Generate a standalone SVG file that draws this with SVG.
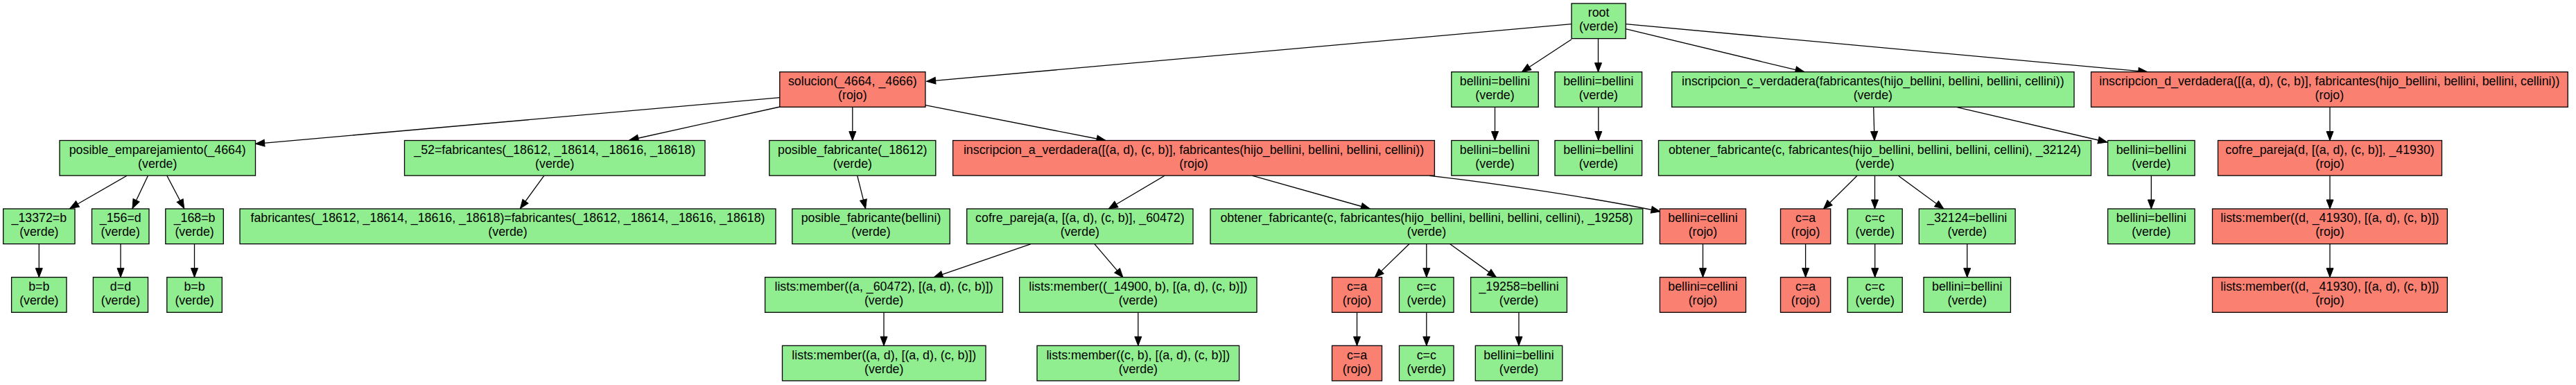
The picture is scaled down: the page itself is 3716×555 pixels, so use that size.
<svg xmlns="http://www.w3.org/2000/svg" width="3716" height="555" viewBox="0 0 3716 555">
<style>
.g{fill:#90ee90;stroke:#000;stroke-width:1.3}
.r{fill:#fa8072;stroke:#000;stroke-width:1.3}
text{font-family:"Liberation Sans",Arial,sans-serif;font-size:17.8px;text-anchor:middle;fill:#000}
.e{stroke:#000;stroke-width:1.3;fill:none;marker-end:url(#a)}
</style>
<defs>
<marker id="a" markerUnits="userSpaceOnUse" markerWidth="14" markerHeight="11" refX="13" refY="5" orient="auto" overflow="visible">
<path d="M0,0 L13,5 L0,10 z" fill="#000" stroke="#000" stroke-width="1"/>
</marker>
</defs>
<rect width="3716" height="555" fill="#fff"/>
<g id="edges">
<path class="e" d="M2267,34.7 L1336.6,117.3"/>
<path class="e" d="M2267,56.7 L2195.3,103.7"/>
<path class="e" d="M2305.5,56 L2305.5,103.7"/>
<path class="e" d="M2345,41.7 L2603,103.7"/>
<path class="e" d="M2345,34.7 L3097.7,103.7"/>
<path class="e" d="M1125,140.7 L368.6,207.3"/>
<path class="e" d="M1125,154 L908,202"/>
<path class="e" d="M1229.8,154.3 L1229.8,202.5"/>
<path class="e" d="M1334.9,151.7 L1595,202.5"/>
<path class="e" d="M2156.5,154.3 L2156.5,202.5"/>
<path class="e" d="M2305.8,154.3 L2305.8,202.5"/>
<path class="e" d="M2702.7,154.3 L2704,202.5"/>
<path class="e" d="M2823.2,154.7 L3039.7,205"/>
<path class="e" d="M3361,154.3 L3361,202.5"/>
<path class="e" d="M183.1,253.2 L100.8,300.5"/>
<path class="e" d="M213.5,253.2 L191,300.5"/>
<path class="e" d="M240.8,253.2 L265.7,300.5"/>
<path class="e" d="M784.8,253.3 L750.4,300.7"/>
<path class="e" d="M1236.7,253.3 L1248.6,300.7"/>
<path class="e" d="M1680,253.3 L1599.2,301"/>
<path class="e" d="M1806.8,253.3 L1976.4,301"/>
<path class="e" d="M2062,253.3 C2140,262 2300,285 2395,305"/>
<path class="e" d="M2679,253.3 L2630.4,301.3"/>
<path class="e" d="M2704.5,253.3 L2704.5,301"/>
<path class="e" d="M2738.4,253.3 L2804,301.3"/>
<path class="e" d="M3103.3,253.3 L3103.3,301"/>
<path class="e" d="M3361,253.3 L3361,301"/>
<path class="e" d="M56.3,351.8 L56.3,399.7"/>
<path class="e" d="M174,351.8 L174,399.7"/>
<path class="e" d="M280.5,351.8 L280.5,399.7"/>
<path class="e" d="M1486.7,351.8 L1347,399.9"/>
<path class="e" d="M1579,351.8 L1620,399.9"/>
<path class="e" d="M2032.8,351.8 L1983.2,399.9"/>
<path class="e" d="M2057.8,351.8 L2057.8,399.7"/>
<path class="e" d="M2091.7,351.8 L2158.6,399.9"/>
<path class="e" d="M2456.5,351.8 L2456.5,399.7"/>
<path class="e" d="M2604.6,351.8 L2604.6,399.7"/>
<path class="e" d="M2704.7,351.8 L2704.7,399.7"/>
<path class="e" d="M2837.7,351.8 L2837.7,399.7"/>
<path class="e" d="M3361,351.8 L3361,399.7"/>
<path class="e" d="M1275,450.5 L1275,498.3"/>
<path class="e" d="M1641.8,450.5 L1641.8,498.3"/>
<path class="e" d="M1957.5,450.5 L1957.5,498.3"/>
<path class="e" d="M2057.8,450.5 L2057.8,498.3"/>
<path class="e" d="M2191,450.5 L2191,498.3"/>
</g>
<g id="n_root"><rect class="g" x="2267" y="5" width="78.2" height="50.6"/><text><tspan x="2306.1" y="24.3">root</tspan><tspan x="2306.1" y="44.3">(verde)</tspan></text></g>
<g id="n_sol"><rect class="r" x="1124.8" y="103.7" width="210.1" height="50.6"/><text><tspan x="1229.85" y="123">solucion(_4664, _4666)</tspan><tspan x="1229.85" y="143">(rojo)</tspan></text></g>
<g id="n_bb1"><rect class="g" x="2093.8" y="103.7" width="125.4" height="50.6"/><text><tspan x="2156.5" y="123">bellini=bellini</tspan><tspan x="2156.5" y="143">(verde)</tspan></text></g>
<g id="n_bb2"><rect class="g" x="2243" y="103.7" width="125.6" height="50.6"/><text><tspan x="2305.8" y="123">bellini=bellini</tspan><tspan x="2305.8" y="143">(verde)</tspan></text></g>
<g id="n_icv"><rect class="g" x="2411.7" y="103.7" width="580.3" height="50.6"/><text><tspan x="2701.85" y="123">inscripcion_c_verdadera(fabricantes(hijo_bellini, bellini, bellini, cellini))</tspan><tspan x="2701.85" y="143">(verde)</tspan></text></g>
<g id="n_idv"><rect class="r" x="3016.5" y="103.7" width="687.7" height="50.6"/><text><tspan x="3360.35" y="123">inscripcion_d_verdadera([(a, d), (c, b)], fabricantes(hijo_bellini, bellini, bellini, cellini))</tspan><tspan x="3360.35" y="143">(rojo)</tspan></text></g>
<g id="n_pe"><rect class="g" x="86" y="202.5" width="282.5" height="50.6"/><text><tspan x="227.25" y="221.8">posible_emparejamiento(_4664)</tspan><tspan x="227.25" y="241.8">(verde)</tspan></text></g>
<g id="n_52"><rect class="g" x="583.5" y="202.5" width="433.5" height="50.6"/><text><tspan x="800.25" y="221.8">_52=fabricantes(_18612, _18614, _18616, _18618)</tspan><tspan x="800.25" y="241.8">(verde)</tspan></text></g>
<g id="n_pf"><rect class="g" x="1109.8" y="202.5" width="240" height="50.6"/><text><tspan x="1229.8" y="221.8">posible_fabricante(_18612)</tspan><tspan x="1229.8" y="241.8">(verde)</tspan></text></g>
<g id="n_iav"><rect class="r" x="1374.6" y="202.5" width="694.8" height="50.6"/><text><tspan x="1722" y="221.8">inscripcion_a_verdadera([(a, d), (c, b)], fabricantes(hijo_bellini, bellini, bellini, cellini))</tspan><tspan x="1722" y="241.8">(rojo)</tspan></text></g>
<g id="n_bb1b"><rect class="g" x="2093.8" y="202.5" width="125.4" height="50.6"/><text><tspan x="2156.5" y="221.8">bellini=bellini</tspan><tspan x="2156.5" y="241.8">(verde)</tspan></text></g>
<g id="n_bb2b"><rect class="g" x="2243" y="202.5" width="125.6" height="50.6"/><text><tspan x="2305.8" y="221.8">bellini=bellini</tspan><tspan x="2305.8" y="241.8">(verde)</tspan></text></g>
<g id="n_of2"><rect class="g" x="2392.5" y="202.5" width="624" height="50.6"/><text><tspan x="2704.5" y="221.8">obtener_fabricante(c, fabricantes(hijo_bellini, bellini, bellini, cellini), _32124)</tspan><tspan x="2704.5" y="241.8">(verde)</tspan></text></g>
<g id="n_bb3"><rect class="g" x="3040.6" y="202.5" width="125.4" height="50.6"/><text><tspan x="3103.3" y="221.8">bellini=bellini</tspan><tspan x="3103.3" y="241.8">(verde)</tspan></text></g>
<g id="n_cp2"><rect class="r" x="3199.5" y="202.5" width="323" height="50.6"/><text><tspan x="3361" y="221.8">cofre_pareja(d, [(a, d), (c, b)], _41930)</tspan><tspan x="3361" y="241.8">(rojo)</tspan></text></g>
<g id="n_13372"><rect class="g" x="4.7" y="301" width="103.3" height="50.6"/><text><tspan x="56.35" y="320.3">_13372=b</tspan><tspan x="56.35" y="340.3">(verde)</tspan></text></g>
<g id="n_156"><rect class="g" x="132.5" y="301" width="82.5" height="50.6"/><text><tspan x="173.75" y="320.3">_156=d</tspan><tspan x="173.75" y="340.3">(verde)</tspan></text></g>
<g id="n_168"><rect class="g" x="238.8" y="301" width="83.5" height="50.6"/><text><tspan x="280.55" y="320.3">_168=b</tspan><tspan x="280.55" y="340.3">(verde)</tspan></text></g>
<g id="n_fabeq"><rect class="g" x="346" y="301" width="773" height="50.6"/><text><tspan x="732.5" y="320.3">fabricantes(_18612, _18614, _18616, _18618)=fabricantes(_18612, _18614, _18616, _18618)</tspan><tspan x="732.5" y="340.3">(verde)</tspan></text></g>
<g id="n_pfb"><rect class="g" x="1142.8" y="301" width="227.4" height="50.6"/><text><tspan x="1256.5" y="320.3">posible_fabricante(bellini)</tspan><tspan x="1256.5" y="340.3">(verde)</tspan></text></g>
<g id="n_cp1"><rect class="g" x="1394.7" y="301" width="326.3" height="50.6"/><text><tspan x="1557.85" y="320.3">cofre_pareja(a, [(a, d), (c, b)], _60472)</tspan><tspan x="1557.85" y="340.3">(verde)</tspan></text></g>
<g id="n_of1"><rect class="g" x="1746" y="301" width="623.8" height="50.6"/><text><tspan x="2057.9" y="320.3">obtener_fabricante(c, fabricantes(hijo_bellini, bellini, bellini, cellini), _19258)</tspan><tspan x="2057.9" y="340.3">(verde)</tspan></text></g>
<g id="n_bc"><rect class="r" x="2394.4" y="301" width="124.1" height="50.6"/><text><tspan x="2456.45" y="320.3">bellini=cellini</tspan><tspan x="2456.45" y="340.3">(rojo)</tspan></text></g>
<g id="n_ca1"><rect class="r" x="2568.5" y="301" width="72.2" height="50.6"/><text><tspan x="2604.6" y="320.3">c=a</tspan><tspan x="2604.6" y="340.3">(rojo)</tspan></text></g>
<g id="n_cc1"><rect class="g" x="2665.2" y="301" width="79" height="50.6"/><text><tspan x="2704.7" y="320.3">c=c</tspan><tspan x="2704.7" y="340.3">(verde)</tspan></text></g>
<g id="n_32124"><rect class="g" x="2768.3" y="301" width="138.8" height="50.6"/><text><tspan x="2837.7" y="320.3">_32124=bellini</tspan><tspan x="2837.7" y="340.3">(verde)</tspan></text></g>
<g id="n_bb4"><rect class="g" x="3040.6" y="301" width="125.4" height="50.6"/><text><tspan x="3103.3" y="320.3">bellini=bellini</tspan><tspan x="3103.3" y="340.3">(verde)</tspan></text></g>
<g id="n_lm3"><rect class="r" x="3191.5" y="301" width="338.9" height="50.6"/><text><tspan x="3360.95" y="320.3">lists:member((d, _41930), [(a, d), (c, b)])</tspan><tspan x="3360.95" y="340.3">(rojo)</tspan></text></g>
<g id="n_bbA"><rect class="g" x="16.6" y="399.7" width="79.4" height="50.6"/><text><tspan x="56.3" y="419">b=b</tspan><tspan x="56.3" y="439">(verde)</tspan></text></g>
<g id="n_dd"><rect class="g" x="134.4" y="399.7" width="79.1" height="50.6"/><text><tspan x="173.95" y="419">d=d</tspan><tspan x="173.95" y="439">(verde)</tspan></text></g>
<g id="n_bbB"><rect class="g" x="240.8" y="399.7" width="79.5" height="50.6"/><text><tspan x="280.55" y="419">b=b</tspan><tspan x="280.55" y="439">(verde)</tspan></text></g>
<g id="n_lma"><rect class="g" x="1103.6" y="399.7" width="342.9" height="50.6"/><text><tspan x="1275.05" y="419">lists:member((a, _60472), [(a, d), (c, b)])</tspan><tspan x="1275.05" y="439">(verde)</tspan></text></g>
<g id="n_lm14900"><rect class="g" x="1470.6" y="399.7" width="342.4" height="50.6"/><text><tspan x="1641.8" y="419">lists:member((_14900, b), [(a, d), (c, b)])</tspan><tspan x="1641.8" y="439">(verde)</tspan></text></g>
<g id="n_ca2"><rect class="r" x="1921.5" y="399.7" width="72" height="50.6"/><text><tspan x="1957.5" y="419">c=a</tspan><tspan x="1957.5" y="439">(rojo)</tspan></text></g>
<g id="n_cc2"><rect class="g" x="2018.5" y="399.7" width="78.5" height="50.6"/><text><tspan x="2057.75" y="419">c=c</tspan><tspan x="2057.75" y="439">(verde)</tspan></text></g>
<g id="n_19258"><rect class="g" x="2121.6" y="399.7" width="138.8" height="50.6"/><text><tspan x="2191" y="419">_19258=bellini</tspan><tspan x="2191" y="439">(verde)</tspan></text></g>
<g id="n_bc2"><rect class="r" x="2394.4" y="399.7" width="124.1" height="50.6"/><text><tspan x="2456.45" y="419">bellini=cellini</tspan><tspan x="2456.45" y="439">(rojo)</tspan></text></g>
<g id="n_ca3"><rect class="r" x="2568.5" y="399.7" width="72.2" height="50.6"/><text><tspan x="2604.6" y="419">c=a</tspan><tspan x="2604.6" y="439">(rojo)</tspan></text></g>
<g id="n_cc3"><rect class="g" x="2665.2" y="399.7" width="79" height="50.6"/><text><tspan x="2704.7" y="419">c=c</tspan><tspan x="2704.7" y="439">(verde)</tspan></text></g>
<g id="n_bbx"><rect class="g" x="2775" y="399.7" width="125.4" height="50.6"/><text><tspan x="2837.7" y="419">bellini=bellini</tspan><tspan x="2837.7" y="439">(verde)</tspan></text></g>
<g id="n_lm4"><rect class="r" x="3191.5" y="399.7" width="338.9" height="50.6"/><text><tspan x="3360.95" y="419">lists:member((d, _41930), [(a, d), (c, b)])</tspan><tspan x="3360.95" y="439">(rojo)</tspan></text></g>
<g id="n_lmad"><rect class="g" x="1128.5" y="498.3" width="293.5" height="50.6"/><text><tspan x="1275.25" y="517.6">lists:member((a, d), [(a, d), (c, b)])</tspan><tspan x="1275.25" y="537.6">(verde)</tspan></text></g>
<g id="n_lmcb"><rect class="g" x="1496" y="498.3" width="291.6" height="50.6"/><text><tspan x="1641.8" y="517.6">lists:member((c, b), [(a, d), (c, b)])</tspan><tspan x="1641.8" y="537.6">(verde)</tspan></text></g>
<g id="n_ca4"><rect class="r" x="1921.5" y="498.3" width="72" height="50.6"/><text><tspan x="1957.5" y="517.6">c=a</tspan><tspan x="1957.5" y="537.6">(rojo)</tspan></text></g>
<g id="n_cc4"><rect class="g" x="2018.5" y="498.3" width="78.5" height="50.6"/><text><tspan x="2057.75" y="517.6">c=c</tspan><tspan x="2057.75" y="537.6">(verde)</tspan></text></g>
<g id="n_bb5"><rect class="g" x="2128.3" y="498.3" width="125.4" height="50.6"/><text><tspan x="2191" y="517.6">bellini=bellini</tspan><tspan x="2191" y="537.6">(verde)</tspan></text></g>
</svg>
